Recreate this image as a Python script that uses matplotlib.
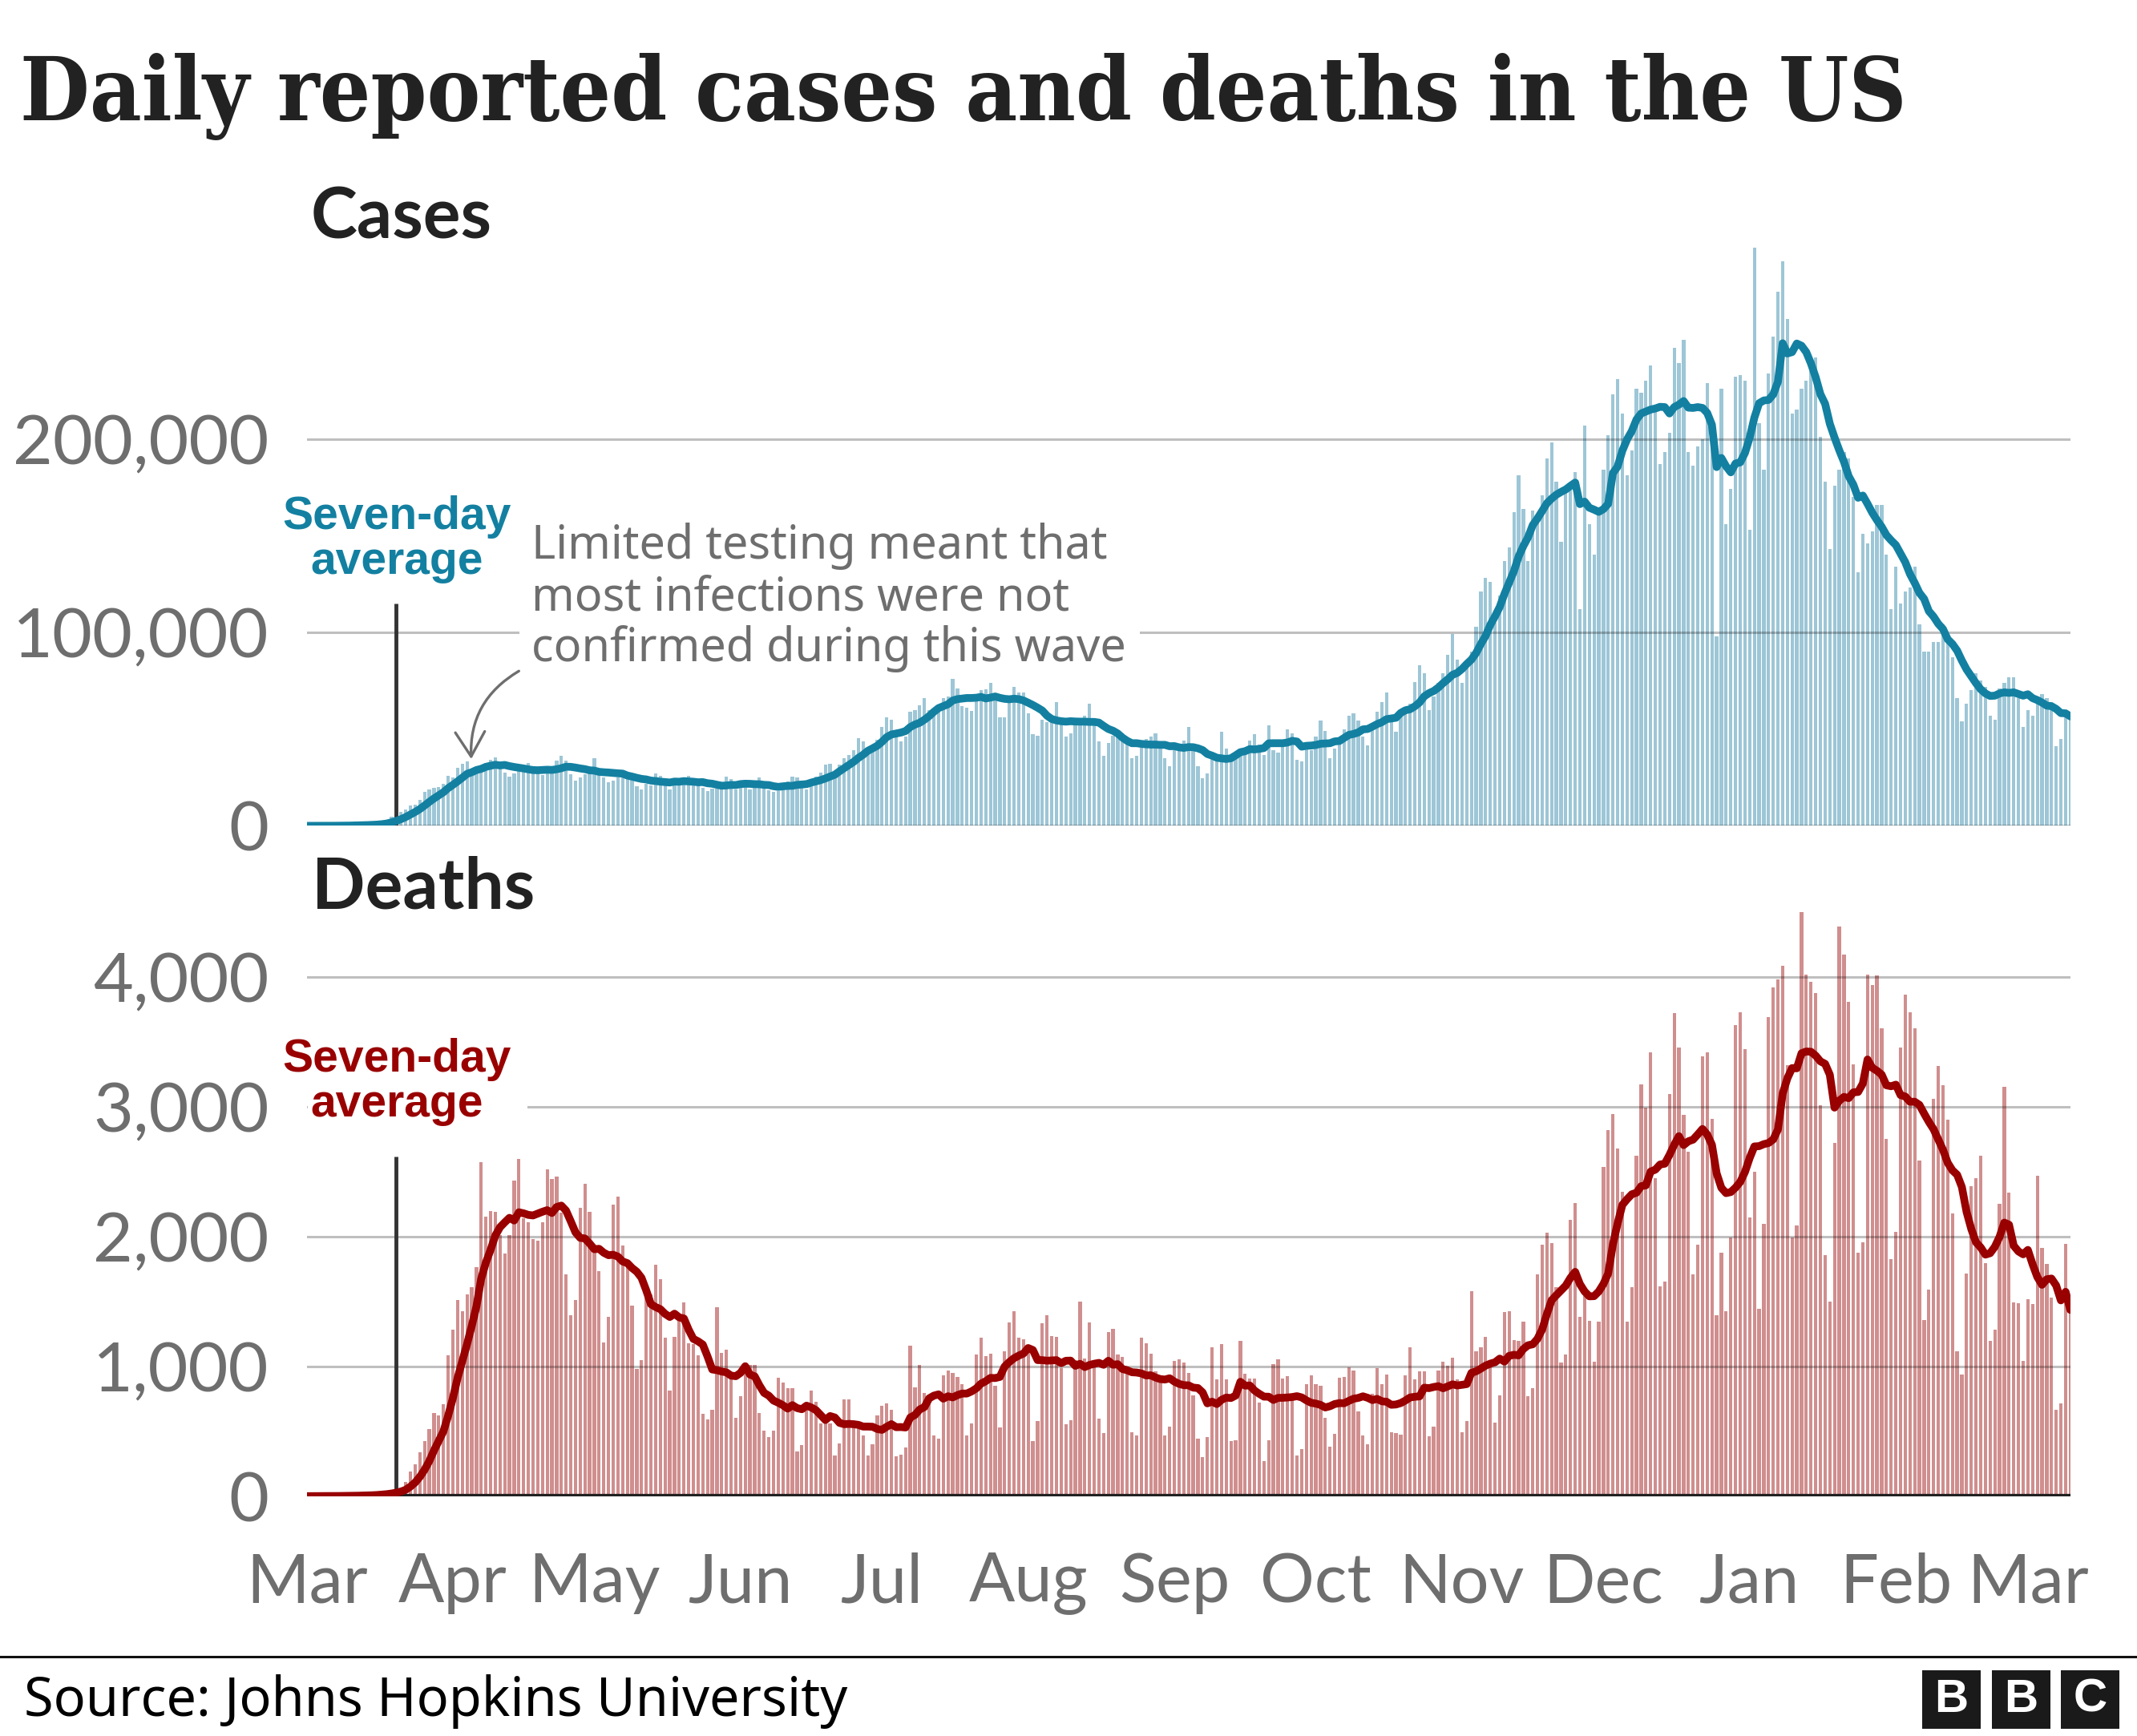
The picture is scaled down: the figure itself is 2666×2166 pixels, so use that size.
import numpy as np
import pandas as pd
import matplotlib
matplotlib.use("Agg")
import matplotlib.pyplot as plt
from matplotlib.patches import Rectangle

# ---- data: one row per week (Sun..Sat), starting Sunday 1 March 2020 ----
start_date = "2020-03-01"

# daily reported cases, in thousands
cases_k = [
    0.0, 0.0, 0.0, 0.0, 0.1, 0.1, 0.1,
    0.1, 0.2, 0.3, 0.4, 0.5, 0.6, 0.7,
    0.8, 1.2, 1.9, 2.8, 4.7, 5.6, 7.1,
    8.5, 10.4, 11.1, 13.4, 17.4, 18.8, 19.5,
    19.9, 21.5, 26.0, 25.2, 29.9, 32.1, 33.3,
    25.9, 29.5, 30.3, 32.4, 34.0, 35.5, 31.0,
    27.6, 25.3, 27.1, 29.9, 31.2, 32.4, 28.3,
    27.0, 26.1, 28.1, 29.2, 33.6, 36.2, 33.7,
    26.5, 23.5, 25.0, 26.6, 29.5, 35.0, 29.3,
    25.0, 22.5, 23.5, 25.2, 28.5, 28.0, 25.5,
    20.5, 18.7, 21.5, 21.0, 27.0, 25.7, 24.0,
    18.9, 22.0, 21.0, 23.2, 26.0, 24.5, 22.0,
    19.5, 18.0, 19.2, 19.4, 22.6, 25.4, 24.0,
    19.0, 21.5, 20.5, 19.0, 21.5, 25.0, 21.8,
    18.2, 17.5, 18.0, 21.0, 23.0, 25.5, 25.0,
    19.5, 19.0, 23.5, 25.5, 27.5, 31.5, 32.0,
    26.0, 31.5, 35.0, 36.8, 39.0, 45.5, 43.5,
    40.0, 40.5, 44.5, 51.0, 56.0, 55.0, 47.0,
    43.5, 46.0, 59.0, 60.0, 62.5, 66.0, 60.0,
    59.0, 59.5, 66.0, 67.0, 76.0, 71.0, 62.0,
    61.0, 59.5, 67.0, 70.0, 70.5, 74.0, 66.0,
    56.0, 56.0, 65.5, 72.0, 69.0, 69.0, 58.0,
    47.5, 46.5, 55.0, 53.5, 57.0, 64.0, 55.0,
    46.0, 48.0, 54.0, 53.0, 57.0, 63.0, 55.0,
    43.5, 36.0, 43.0, 46.5, 47.0, 48.0, 43.5,
    35.0, 36.0, 40.5, 45.0, 46.0, 48.0, 42.5,
    35.0, 31.0, 41.0, 40.5, 44.0, 51.0, 42.0,
    31.0, 24.5, 27.0, 34.5, 36.5, 48.5, 40.0,
    33.5, 35.0, 38.5, 38.0, 44.0, 47.5, 42.0,
    36.5, 52.0, 39.0, 38.0, 44.0, 50.0, 48.0,
    34.0, 33.5, 42.0, 39.0, 46.0, 54.5, 49.0,
    35.0, 40.0, 43.5, 50.0, 57.0, 58.0, 54.5,
    46.0, 41.5, 52.0, 59.0, 64.0, 69.0, 57.0,
    48.5, 59.0, 61.5, 63.0, 74.5, 83.0, 79.0,
    60.0, 67.0, 74.0, 79.0, 88.5, 99.0, 86.0,
    74.0, 85.0, 90.0, 103.0, 121.0, 128.0, 126.0,
    105.0, 119.0, 137.0, 144.0, 162.0, 181.0, 164.0,
    137.0, 163.0, 161.0, 171.0, 190.0, 198.0, 178.0,
    147.0, 172.0, 174.0, 183.0, 112.0, 207.0, 156.0,
    140.0, 164.0, 184.0, 202.0, 223.0, 231.0, 213.0,
    181.0, 194.0, 226.0, 224.0, 230.0, 238.0, 217.0,
    187.0, 193.0, 203.0, 247.0, 239.0, 251.0, 193.0,
    186.0, 196.0, 200.0, 229.0, 196.0, 98.0, 226.0,
    156.0, 174.0, 232.0, 233.0, 230.0, 153.0, 299.0,
    208.0, 184.0, 234.0, 253.0, 276.0, 292.0, 262.0,
    213.0, 215.0, 226.0, 230.0, 235.0, 242.0, 201.0,
    178.0, 143.0, 176.0, 184.0, 193.0, 190.0, 170.0,
    131.0, 151.0, 146.0, 152.0, 166.0, 166.0, 140.0,
    112.0, 134.0, 115.0, 121.0, 123.0, 134.0, 104.0,
    90.0, 90.0, 95.0, 95.0, 104.0, 97.0, 87.0,
    66.0, 54.0, 63.0, 70.0, 79.0, 75.0, 72.0,
    57.0, 55.0, 71.0, 74.0, 77.0, 77.0, 66.0,
    51.0, 60.0, 57.0, 67.0, 68.0, 66.0, 64.0,
    41.0, 45.0, 56.0, 56.0,
]

# daily reported deaths
deaths = [
    1, 1, 2, 3, 2, 2, 3,
    3, 4, 5, 8, 7, 10, 10,
    12, 18, 25, 32, 42, 55, 70,
    110, 190, 245, 337, 423, 521, 644,
    623, 709, 1089, 1282, 1512, 1426, 1558,
    1610, 1767, 2577, 2157, 2199, 2193, 2012,
    1871, 2012, 2432, 2601, 2141, 2110, 1982,
    1972, 2110, 2518, 2448, 2463, 2187, 1712,
    1396, 1512, 2224, 2411, 2193, 1880, 1733,
    1184, 1380, 2248, 2310, 1933, 1788, 1472,
    982, 1052, 1574, 1558, 1782, 1672, 1221,
    813, 1230, 1374, 1497, 1181, 1175, 1089,
    638, 592, 669, 1460, 1107, 1129, 914,
    607, 770, 1028, 1012, 1012, 644, 506,
    454, 506, 914, 874, 831, 831, 347,
    393, 699, 816, 730, 561, 567, 561,
    316, 408, 745, 745, 546, 531, 469,
    316, 399, 623, 699, 715, 669, 307,
    322, 377, 1160, 837, 1012, 798, 776,
    469, 445, 929, 966, 951, 920, 862,
    469, 561, 1092, 1221, 1083, 1098, 853,
    531, 1120, 1337, 1426, 1221, 1212, 1150,
    423, 577, 1334, 1396, 1236, 1227, 985,
    555, 586, 1052, 1503, 1064, 1337, 1052,
    601, 485, 1267, 1291, 1092, 1077, 985,
    494, 469, 1221, 1181, 1098, 960, 899,
    469, 537, 1043, 1058, 1028, 951, 776,
    445, 301, 454, 1150, 899, 1175, 899,
    423, 433, 1196, 945, 905, 905, 721,
    270, 429, 1021, 1058, 908, 923, 745,
    316, 362, 862, 929, 862, 853, 607,
    383, 479, 914, 920, 991, 966, 653,
    469, 399, 791, 985, 862, 939, 491,
    485, 475, 929, 1150, 899, 960, 960,
    460, 537, 972, 1037, 1006, 1067, 899,
    494, 577, 1580, 1120, 1150, 1227, 1006,
    567, 776, 1420, 1429, 1206, 1199, 1344,
    770, 831, 1712, 1936, 2034, 1948, 1613,
    1028, 1092, 2132, 2258, 1380, 1543, 1353,
    1037, 1344, 2540, 2822, 2948, 2678, 2347,
    1344, 1610, 2626, 3175, 2994, 3420, 2450,
    1620, 1656, 3098, 3721, 3460, 2939, 2653,
    1712, 1936, 3393, 3420, 2908, 1396, 1874,
    1426, 1994, 3629, 3727, 3445, 2150, 2500,
    1442, 2101, 3690, 3920, 3982, 4089, 3322,
    1994, 2089, 4500, 4018, 3966, 3880, 3015,
    1859, 1503, 2724, 4390, 4172, 3813, 3328,
    1880, 1957, 4021, 3942, 4012, 3604, 2755,
    1828, 2040, 3460, 3865, 3727, 3607, 2586,
    1359, 1595, 3061, 3313, 3169, 2905, 2181,
    1120, 936, 1718, 2387, 2454, 2626, 1794,
    1199, 1282, 2255, 3153, 2340, 1491, 1488,
    1043, 1518, 1482, 2469, 1917, 1788, 1528,
    669, 715, 1942, 1497,
]

month_labels = ["Mar", "Apr", "May", "Jun", "Jul", "Aug", "Sep",
                "Oct", "Nov", "Dec", "Jan", "Feb", "Mar"]
cases_ticks = [0, 100000, 200000]
deaths_ticks = [0, 1000, 2000, 3000, 4000]
leader_date = "2020-03-20"

# ---- styling ----
W, H, DPI = 2666, 2166, 100
BLUE, RED = "#1380A1", "#990000"
BLUE_BAR, RED_BAR = "#9DC6D6", "#D08E8E"
GREY = "#6E6E6E"
DARK = "#222222"

plt.rcParams["font.family"] = ["Lato", "DejaVu Sans"]

cases = np.array(cases_k) * 1000
deaths = np.array(deaths, dtype=float)
n = len(cases)
x = np.arange(n)
cases_avg = pd.Series(cases).rolling(7, min_periods=1).mean()
deaths_avg = pd.Series(deaths).rolling(7, min_periods=1).mean()

t0 = pd.Timestamp(start_date)
month_pos = (pd.date_range(start_date, periods=len(month_labels), freq="MS") - t0).days
leader_x = (pd.Timestamp(leader_date) - t0).days

fig = plt.figure(figsize=(W / DPI, H / DPI), dpi=DPI)


def box(l, t, r, b):
    # pixel box -> figure fraction [left, bottom, width, height]
    return [l / W, 1 - b / H, (r - l) / W, (b - t) / H]


def ftext(px, py, s, **kw):
    return fig.text(px / W, 1 - py / H, s, **kw)


ax_c = fig.add_axes(box(382.6, 306.2, 2582.8, 1030.4))
ax_d = fig.add_axes(box(382.6, 1138.3, 2582.8, 1866.9))

for ax, ymax, ticks in [(ax_c, 300000, cases_ticks), (ax_d, 4500, deaths_ticks)]:
    ax.set_xlim(0, n - 1)
    ax.set_ylim(0, ymax)
    ax.patch.set_visible(False)
    for sp in ax.spines.values():
        sp.set_visible(False)
    ax.set_yticks(ticks, [f"{t:,}" for t in ticks])
    ax.tick_params(axis="y", length=0, pad=34, labelsize=62, labelcolor=GREY)
    for t in ticks:
        if ax is ax_d and t == 0:
            continue
        ax.axhline(t, color="black", alpha=0.25, lw=2.2, zorder=2)

ax_c.set_xticks([])
ax_d.set_xticks(month_pos, month_labels)
ax_d.tick_params(axis="x", length=0, pad=50, labelsize=61, labelcolor=GREY)

# cases
ax_c.bar(x, cases, width=0.72, color=BLUE_BAR, lw=0, zorder=1)
ax_c.plot(x, cases_avg, color=BLUE, lw=7, solid_capstyle="round",
          solid_joinstyle="round", zorder=4)
ax_c.vlines(leader_x, 0, 115000, color="#333333", lw=3.5, zorder=3)

# deaths
ax_d.bar(x, deaths, width=0.72, color=RED_BAR, lw=0, zorder=1)
ax_d.axhline(0, color=DARK, lw=4.5, zorder=3)
ax_d.plot(x, deaths_avg, color=RED, lw=7, solid_capstyle="round",
          solid_joinstyle="round", zorder=4)
ax_d.vlines(leader_x, 0, 2620, color="#333333", lw=3.5, zorder=3)

# white patches that break the gridlines behind the labels
ax_c.add_patch(Rectangle((648 / W, 1 - 835 / H), (1422 - 648) / W, 190 / H,
                         transform=fig.transFigure, facecolor="white",
                         edgecolor="none", zorder=2.5, clip_on=False))
ax_d.add_patch(Rectangle((384 / W, 1 - 1420 / H), (658 - 384) / W, 130 / H,
                         transform=fig.transFigure, facecolor="white",
                         edgecolor="none", zorder=2.5, clip_on=False))

# annotation
note = ["Limited testing meant that", "most infections were not",
        "confirmed during this wave"]
for i, line in enumerate(note):
    ftext(663, 697 + i * 64.2, line, fontsize=41.5, color=GREY, va="baseline",
          family="Noto Sans")
ax_c.annotate("", xy=(34.9, 34500), xytext=(45.0, 80000),
              arrowprops=dict(arrowstyle="->,head_length=0.55,head_width=0.33",
                              connectionstyle="arc3,rad=0.3", color=GREY,
                              lw=2.4, shrinkA=0, shrinkB=0, mutation_scale=40),
              zorder=5)

# seven-day average labels
for (y1, y2), col in [((660, 716), BLUE), ((1337, 1393), RED)]:
    ftext(494.8, y1, "Seven-day", fontsize=41, color=col, weight="bold",
          family="Liberation Sans", ha="center", va="baseline")
    ftext(494.8, y2, "average", fontsize=41, color=col, weight="bold",
          family="Liberation Sans", ha="center", va="baseline")

# titles
title = ftext(25, 150, "Daily reported cases and deaths in the US", fontsize=80,
              family="DejaVu Serif", fontstretch="condensed", weight="bold",
              color=DARK, va="baseline")
ftext(388, 297, "Cases", fontsize=63, weight="bold", color=DARK, va="baseline")
ftext(389, 1134, "Deaths", fontsize=63, weight="bold", color=DARK, va="baseline")

fig.canvas.draw()
w = title.get_window_extent().width
title.set_fontsize(title.get_fontsize() * 2355 / w)

# footer
fig.add_artist(plt.Line2D([0, 1], [1 - 2066.5 / H] * 2, color="#111111", lw=2.2,
                          transform=fig.transFigure))
ftext(30, 2141, "Source: Johns Hopkins University", fontsize=48, color="black",
      va="baseline", family="Noto Sans")
for i, letter in enumerate("BBC"):
    left = 2398 + i * 86.5
    fig.add_artist(Rectangle((left / W, 1 - 2157 / H), 73 / W, 73 / H,
                             transform=fig.transFigure, facecolor="#1a1a1a",
                             edgecolor="none"))
    ftext(left + 36.5, 2121, letter, fontsize=42, weight="bold", color="white",
          family="Liberation Sans", ha="center", va="center")

fig.savefig("out.png", dpi=DPI, facecolor="white")
